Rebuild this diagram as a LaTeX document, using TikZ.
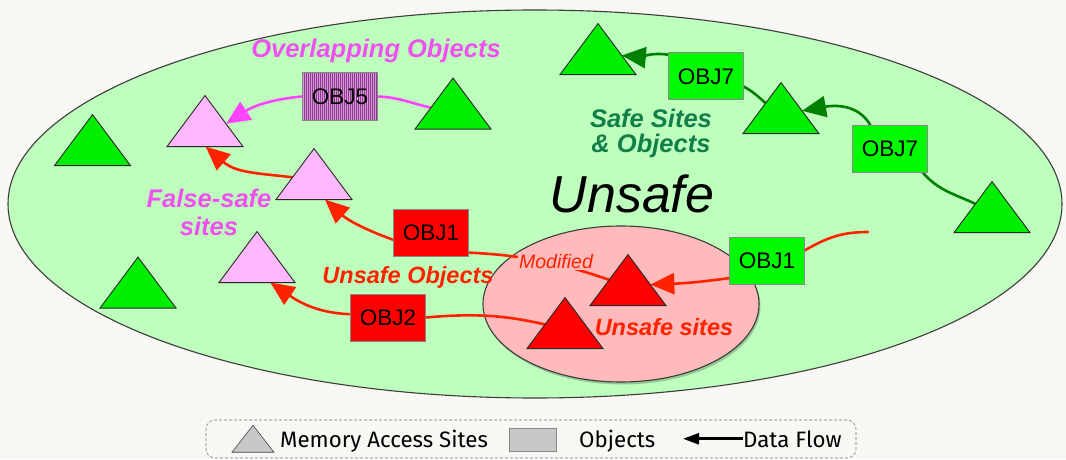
\documentclass[tikz,border=0pt]{standalone}
\usepackage{fontspec}
\setmainfont{Liberation Sans}
\newfontfamily\legendfont{Fira Sans}
\usetikzlibrary{shapes.geometric,arrows.meta,patterns.meta}

\definecolor{paper}{RGB}{248,247,244}
\definecolor{zone}{RGB}{190,255,190}
\definecolor{zoneedge}{RGB}{60,60,60}
\definecolor{hot}{RGB}{255,187,187}
\definecolor{sitegreen}{RGB}{0,238,0}
\definecolor{objgreen}{RGB}{0,250,0}
\definecolor{sitepink}{RGB}{255,184,255}
\definecolor{sitered}{RGB}{255,0,0}
\definecolor{flowred}{RGB}{255,34,0}
\definecolor{flowgreen}{RGB}{0,128,0}
\definecolor{flowmag}{RGB}{255,68,255}
\definecolor{textmag}{RGB}{240,80,240}
\definecolor{textgreen}{RGB}{16,128,72}
\definecolor{boxedge}{RGB}{136,136,136}
\definecolor{siteedge}{RGB}{40,40,40}
\definecolor{legendgray}{RGB}{200,200,200}
\definecolor{obj5base}{RGB}{220,150,220}
\definecolor{obj5line}{RGB}{140,60,140}

\pgfdeclarelayer{back}
\pgfdeclarelayer{wires}
\pgfsetlayers{back,wires,main}

\tikzset{
  site/.style={isosceles triangle, isosceles triangle stretches,
    shape border rotate=90, minimum width=76pt, minimum height=51pt,
    inner sep=0pt, outer sep=0pt, draw=siteedge, line width=0.9pt},
  greensite/.style={site, fill=sitegreen},
  pinksite/.style={site, fill=sitepink},
  redsite/.style={site, fill=sitered},
  obj/.style={rectangle, minimum width=75.5pt, minimum height=47pt,
    inner sep=0pt, outer sep=0pt, draw=boxedge, line width=1pt,
    font=\fontsize{22.5}{22.5}\selectfont},
  link/.style={line width=2.6pt, line cap=round},
  flow/.style={link, -{Triangle[length=24pt,width=21pt]}},
  tag/.style={anchor=base, inner sep=0pt,
    font=\fontsize{25.5}{25.5}\selectfont\bfseries\itshape},
  smalltag/.style={anchor=base, inner sep=0pt,
    font=\fontsize{23.5}{23.5}\selectfont\bfseries\itshape},
  legendtext/.style={anchor=base west, inner sep=0pt,
    font=\legendfont\fontsize{22.3}{22.3}\selectfont},
}

\begin{document}
\begin{tikzpicture}[x=1pt,y=1pt]
\useasboundingbox (0,0) rectangle (1066,459);

% regions
\begin{pgfonlayer}{back}
  \fill[paper] (0,0) rectangle (1066,459);
  \draw[fill=zone, draw=zoneedge, line width=1.1pt]
    (535,255) ellipse [x radius=527, y radius=194];
  \fill[black, opacity=0.22] (622.5,152.5) ellipse [x radius=138, y radius=78];
  \draw[fill=hot, draw=zoneedge, line width=1.1pt]
    (621,155) ellipse [x radius=138, y radius=78];
\end{pgfonlayer}

% memory access sites
\node[greensite] (t1) at (92.5,312.5) {};
\node[pinksite]  (t2) at (205,331.5) {};
\node[greensite] (t3) at (453,349) {};
\node[pinksite]  (t4) at (314,278.5) {};
\node[pinksite]  (t5) at (257,195.5) {};
\node[greensite] (t6) at (138,170) {};
\node[greensite] (t7) at (598,403.5) {};
\node[greensite] (t8) at (781,344.5) {};
\node[greensite] (t9) at (992,245.5) {};
\node[redsite]   (t10) at (628,172.5) {};
\node[redsite]   (t11) at (565,129.5) {};

% objects
\node[obj, preaction={fill=obj5base},
      pattern={Lines[angle=90,distance=2pt,line width=0.7pt]},
      pattern color=obj5line] (o5) at (340,362.5) {OBJ5};
\node[obj, fill=objgreen] (o7a) at (706,382.5) {OBJ7};
\node[obj, fill=objgreen] (o7b) at (890,310.5) {OBJ7};
\node[obj, fill=sitered]  (o1r) at (431,226.5) {OBJ1};
\node[obj, fill=sitered]  (o2)  at (388,141.5) {OBJ2};
\node[obj, fill=objgreen] (o1g) at (767,198.5) {OBJ1};

% labels
\node[tag, text=textmag] (lover) at (376,401) {Overlapping Objects};
\node[tag, text=textgreen] (lsafea) at (651,332) {Safe Sites};
\node[tag, text=textgreen] (lsafeb) at (651,307) {\& Objects};
\node[anchor=base, inner sep=0pt, font=\fontsize{52}{52}\selectfont\itshape]
  (lunsafe) at (632,247) {Unsafe};
\node[tag, text=textmag] (lfalsea) at (209,252) {False-safe};
\node[tag, text=textmag] (lfalseb) at (209,224) {sites};
\node[smalltag, text=flowred] (luobj) at (408,176) {Unsafe Objects};
\node[smalltag, text=flowred] (lusites) at (664,124) {Unsafe sites};
\node[anchor=base, fill=hot, inner sep=1.5pt, text=flowred,
      font=\fontsize{19.5}{19.5}\selectfont\itshape] (lmod) at (556,191) {Modified};

% data flow
\begin{pgfonlayer}{wires}
  \draw[link, flowmag] (o5.0) to[out=-2, in=180] (t3.center);
  \draw[flow, flowmag] (o5.180) to[out=185, in=33] (t2.10);

  \draw[link, flowgreen] (t9.center) to[out=145, in=-50] (o7b.-36);
  \draw[flow, flowgreen] (o7b.130) to[out=120, in=10] (t8.10);
  \draw[link, flowgreen] (o7a.-15) to[out=-28, in=150] (t8.center);
  \draw[flow, flowgreen] (o7a.150) to[out=172, in=-5] (t7.0);

  \coordinate (src) at (868,227);
  \draw[link, flowred] (src) to[out=180, in=30] (o1g.15);
  \draw[flow, flowred] (o1g.205) to[out=188, in=2] (t10.5);
  \draw[link, flowred] (o1r.-28) to[out=-3, in=160] (t10.center);
  \draw[flow, flowred] (o1r.191) to[out=160, in=-42] (t4.-60);
  \draw[flow, flowred] (t4.center) to[out=170, in=-41] (t2.-88);
  \draw[link, flowred] (o2.0) to[out=5, in=165] (t11.center);
  \draw[flow, flowred] (o2.175) to[out=178, in=-34] (t5.-55);
\end{pgfonlayer}

% legend
\node[draw={rgb,255:red,120;green,120;blue,120}, densely dashed, line width=0.6pt,
      rounded corners=9pt, minimum width=650pt, minimum height=38pt, inner sep=0pt]
  (legend) at (531,20) {};
\node[site, fill=legendgray, minimum width=42pt, minimum height=27pt,
      line width=0.6pt, draw={rgb,255:red,70;green,70;blue,70}] (lgsite) at (253,17) {};
\node[legendtext] (lgsitetxt) at (280,12) {Memory Access Sites};
\node[draw=boxedge, fill=legendgray, line width=0.8pt, minimum width=47pt,
      minimum height=23pt, inner sep=0pt] (lgobj) at (532.5,19.5) {};
\node[legendtext] (lgobjtxt) at (579,12) {Objects};
\node[legendtext] (lgflowtxt) at (743,12) {Data Flow};
\coordinate (lghead) at (683,0);
\draw[line width=2.6pt, -{Triangle[length=16pt,width=11pt]}]
  (lgflowtxt.west) -- (lgflowtxt.west -| lghead);
\end{tikzpicture}
\end{document}
